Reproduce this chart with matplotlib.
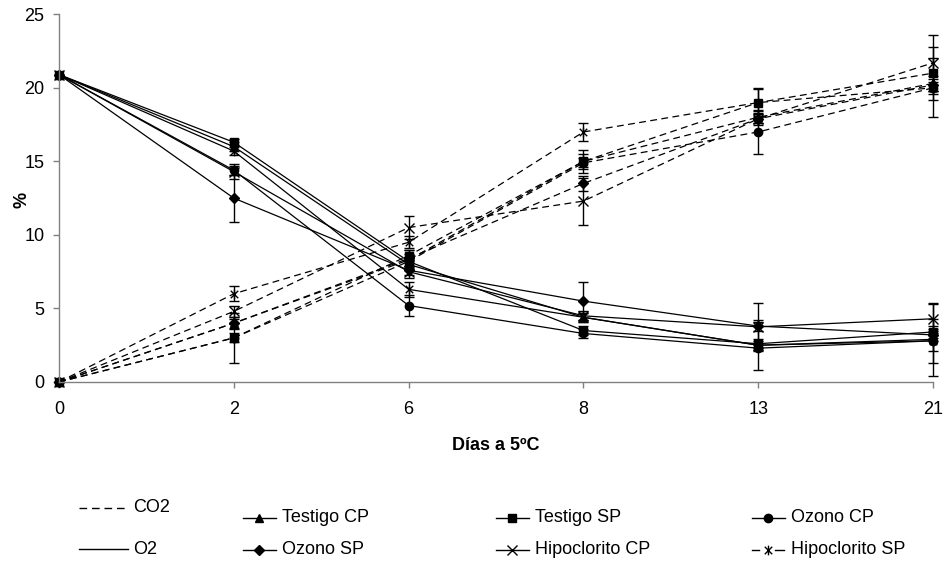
import numpy as np
import matplotlib.pyplot as plt
from matplotlib.lines import Line2D
from matplotlib.path import Path

plt.rcParams['font.family'] = ['Liberation Sans', 'DejaVu Sans']

# ===================== DATA =====================
dias = ["0", "2", "6", "8", "13", "21"]
tratamientos = ["Testigo CP", "Testigo SP", "Ozono CP", "Ozono SP",
                "Hipoclorito CP", "Hipoclorito SP"]

o2_testigo_cp = [20.9, 16.0, 8.0, 4.4, 2.5, 2.9]
o2_testigo_sp = [20.9, 16.3, 8.2, 3.5, 2.6, 3.4]
o2_ozono_cp = [20.9, 14.4, 5.2, 3.3, 2.3, 2.8]
o2_ozono_sp = [20.9, 12.5, 7.6, 5.5, 3.8, 3.2]
o2_hipo_cp = [20.9, 14.3, 7.5, 4.5, 3.75, 4.3]
o2_hipo_sp = [20.9, 15.7, 6.3, 4.4, 2.5, 2.8]

co2_testigo_cp = [0, 4.0, 8.3, 15.0, 18.0, 20.3]
co2_testigo_sp = [0, 3.0, 8.6, 15.0, 19.0, 21.0]
co2_ozono_cp = [0, 3.0, 8.2, 14.9, 17.0, 20.0]
co2_ozono_sp = [0, 4.0, 8.4, 13.5, 17.9, 20.2]
co2_hipo_cp = [0, 4.8, 10.5, 12.3, 17.9, 21.7]
co2_hipo_sp = [0, 6.0, 9.5, 17.0, 19.0, 20.0]

o2_err_testigo_cp = [0, 0.3, 0.3, 0.3, 0.3, 2.5]
o2_err_testigo_sp = [0, 0.2, 0.3, 0.3, 0.3, 0.4]
o2_err_ozono_cp = [0, 0.3, 0.7, 0.3, 0.2, 0.7]
o2_err_ozono_sp = [0, 1.6, 0.3, 1.3, 0.3, 0.4]
o2_err_hipo_cp = [0, 0.5, 0.4, 0.3, 1.6, 1.0]
o2_err_hipo_sp = [0, 0.3, 0.5, 0.3, 1.7, 1.5]

co2_err_testigo_cp = [0, 0.4, 0.7, 0.5, 0.4, 0.5]
co2_err_testigo_sp = [0, 1.7, 0.4, 0.8, 0.9, 1.8]
co2_err_ozono_cp = [0, 0.3, 0.3, 0.3, 1.5, 0.4]
co2_err_ozono_sp = [0, 0.3, 0.3, 0.5, 0.3, 0.4]
co2_err_hipo_cp = [0, 0.4, 0.8, 1.6, 0.4, 1.9]
co2_err_hipo_sp = [0, 0.5, 0.4, 0.6, 1.0, 2.0]

o2_series = [o2_testigo_cp, o2_testigo_sp, o2_ozono_cp,
             o2_ozono_sp, o2_hipo_cp, o2_hipo_sp]
co2_series = [co2_testigo_cp, co2_testigo_sp, co2_ozono_cp,
              co2_ozono_sp, co2_hipo_cp, co2_hipo_sp]
o2_errs = [o2_err_testigo_cp, o2_err_testigo_sp, o2_err_ozono_cp,
           o2_err_ozono_sp, o2_err_hipo_cp, o2_err_hipo_sp]
co2_errs = [co2_err_testigo_cp, co2_err_testigo_sp, co2_err_ozono_cp,
            co2_err_ozono_sp, co2_err_hipo_cp, co2_err_hipo_sp]

# ===================== MARKERS =====================
# excel "star": an x with a vertical bar
star = Path([(-1, -1), (1, 1), (-1, 1), (1, -1), (0, -1.3), (0, 1.3)],
            [Path.MOVETO, Path.LINETO, Path.MOVETO, Path.LINETO,
             Path.MOVETO, Path.LINETO])
marcadores = ["^", "s", "o", "D", "x", star]
tamanos = [6, 5.5, 6, 5.5, 7, 7]

# ===================== PLOT =====================
fig = plt.figure(figsize=(9.44, 5.62), dpi=100)
ax = fig.add_axes([59/944, 1 - 382/562, (933 - 59)/944, (382 - 14.3)/562])

x = np.arange(len(dias))
gris = "#808080"
fs = 13

for serie, err, mk, ms in zip(co2_series, co2_errs, marcadores, tamanos):
    ax.errorbar(x, serie, yerr=err, errorevery=(1, 1), color="black",
                lw=0.9, dashes=(5.5, 3.5), marker=mk, ms=ms, mfc="black",
                mec="black", mew=1.0, ecolor="black", elinewidth=1.0,
                capsize=3.5, capthick=1.0, clip_on=False)

for serie, err, mk, ms in zip(o2_series, o2_errs, marcadores, tamanos):
    ax.errorbar(x, serie, yerr=err, errorevery=(1, 1), color="black",
                lw=0.9, ls="-", marker=mk, ms=ms, mfc="black",
                mec="black", mew=1.0, ecolor="black", elinewidth=1.0,
                capsize=3.5, capthick=1.0, clip_on=False)

ax.set_xlim(0, len(dias) - 1)
ax.set_ylim(0, 25)
ax.set_xticks(x)
ax.set_xticklabels(dias)
ax.set_yticks([0, 5, 10, 15, 20, 25])

for s in ["top", "right"]:
    ax.spines[s].set_visible(False)
for s in ["left", "bottom"]:
    ax.spines[s].set_color(gris)
    ax.spines[s].set_linewidth(1.0)

ax.tick_params(axis="both", colors=gris, labelcolor="black", labelsize=fs,
               length=4, width=1.0)
ax.tick_params(axis="x", pad=10)
ax.tick_params(axis="y", pad=6.5)

ax.set_xlabel("Días a 5ºC", fontsize=fs, fontweight="bold")
ax.xaxis.set_label_coords(0.5, (382 - 446) / 367.7)
ax.xaxis.label.set_va("center")
ax.set_ylabel("%", fontsize=fs, fontweight="bold")
ax.yaxis.set_label_coords((22 - 59) / 874, 0.495)
ax.yaxis.label.set_va("center")

# ===================== LEGEND =====================
def fx(px):
    return px / 944

def fy(py):
    return 1 - py / 562

# gas legend (line styles)
fig.add_artist(Line2D([fx(79), fx(128)], [fy(508), fy(508)], color="black",
                      lw=1.0, dashes=(5.5, 3.5), transform=fig.transFigure))
fig.text(fx(133), fy(508), "CO2", fontsize=fs, va="center")
fig.add_artist(Line2D([fx(79), fx(128)], [fy(549), fy(549)], color="black",
                      lw=1.0, transform=fig.transFigure))
fig.text(fx(133), fy(549), "O2", fontsize=fs, va="center")

# treatment legend (markers)
col_x = [243, 496, 752]
row_y = [518, 550]
for i, (nombre, mk, ms) in enumerate(zip(tratamientos, marcadores, tamanos)):
    px = col_x[i % 3]
    py = row_y[i // 3]
    if i == 5:
        # excel leaves a gap round the star in the legend
        segs = [(px, px + 7), (px + 23, px + 32)]
    else:
        segs = [(px, px + 33)]
    for a, b in segs:
        fig.add_artist(Line2D([fx(a), fx(b)], [fy(py), fy(py)],
                              color="black", lw=1.0,
                              transform=fig.transFigure))
    fig.add_artist(Line2D([fx(px + 16)], [fy(py)], color="black",
                          marker=mk, ms=ms, mfc="black", mec="black",
                          ls="none", transform=fig.transFigure))
    fig.text(fx(px + 39), fy(py), nombre, fontsize=fs, va="center")

fig.savefig("out.png", dpi=100)
